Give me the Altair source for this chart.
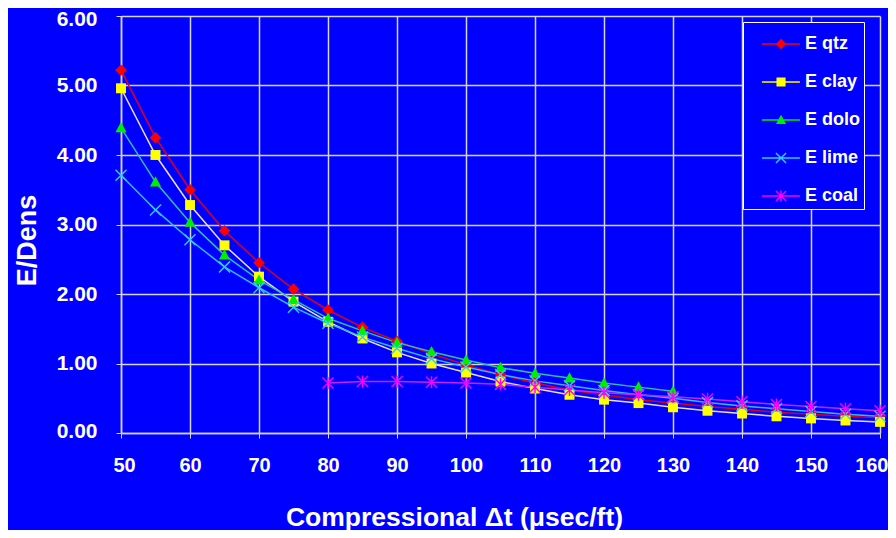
import altair as alt
import pandas as pd

# ---------------- data ----------------
dt_full = [50, 55, 60, 65, 70, 75, 80, 85, 90, 95, 100, 105, 110, 115, 120,
           125, 130, 135, 140, 145, 150, 155, 160]
e_qtz = [5.22, 4.25, 3.50, 2.91, 2.45, 2.07, 1.77, 1.52, 1.32, 1.14, 0.98, 0.84,
         0.72, 0.62, 0.55, 0.48, 0.43, 0.38, 0.34, 0.30, 0.27, 0.24, 0.22]
e_clay = [4.96, 4.00, 3.28, 2.70, 2.25, 1.89, 1.60, 1.36, 1.16, 1.00, 0.87, 0.74,
          0.64, 0.55, 0.48, 0.43, 0.37, 0.32, 0.28, 0.24, 0.21, 0.18, 0.16]
dt_dolo = [50, 55, 60, 65, 70, 75, 80, 85, 90, 95, 100, 105, 110, 115, 120, 125, 130]
e_dolo = [4.39, 3.61, 3.03, 2.56, 2.20, 1.92, 1.65, 1.47, 1.30, 1.17, 1.05, 0.94,
          0.86, 0.79, 0.72, 0.66, 0.60]
e_lime = [3.71, 3.21, 2.78, 2.39, 2.09, 1.81, 1.58, 1.38, 1.22, 1.07, 0.95, 0.84,
          0.75, 0.68, 0.61, 0.55, 0.50, 0.44, 0.39, 0.35, 0.31, 0.27, 0.24]
dt_coal = [80, 85, 90, 95, 100, 105, 110, 115, 120, 125, 130, 135, 140, 145, 150, 155, 160]
e_coal = [0.72, 0.74, 0.74, 0.73, 0.72, 0.70, 0.66, 0.62, 0.58, 0.55, 0.52, 0.49,
          0.45, 0.41, 0.38, 0.35, 0.32]

series_names = ["E qtz", "E clay", "E dolo", "E lime", "E coal"]
line_colors = ["#e00010", "#e8e0c8", "#30c0a0", "#33bbff", "#cc22ff"]
marker_colors = ["#ff0000", "#ffff00", "#00ee00", "#33ccff", "#ff00ff"]
x_ticks = [50, 60, 70, 80, 90, 100, 110, 120, 130, 140, 150, 160]
y_ticks = [0, 1, 2, 3, 4, 5, 6]

rows = []
for name, xs, ys in [("E qtz", dt_full, e_qtz), ("E clay", dt_full, e_clay),
                     ("E dolo", dt_dolo, e_dolo), ("E lime", dt_full, e_lime),
                     ("E coal", dt_coal, e_coal)]:
    for x, y in zip(xs, ys):
        rows.append({"dt": x, "val": y, "series": name})
df = pd.DataFrame(rows)


# ---------------- marker shapes (SVG paths) ----------------
def poly(pts):
    area = sum(pts[i][0] * pts[(i + 1) % len(pts)][1] - pts[(i + 1) % len(pts)][0] * pts[i][1]
               for i in range(len(pts)))
    if area < 0:
        pts = pts[::-1]
    return "M" + "L".join(f"{x:.3f},{y:.3f}" for x, y in pts) + "Z"


def bar(x1, y1, x2, y2, h):
    dx, dy = x2 - x1, y2 - y1
    L = (dx * dx + dy * dy) ** 0.5
    px, py = -dy / L * h, dx / L * h
    return poly([(x1 + px, y1 + py), (x2 + px, y2 + py), (x2 - px, y2 - py), (x1 - px, y1 - py)])


def shapes(cx, s, h):
    diamond = poly([(cx, -s * 1.05), (cx + s * 1.05, 0), (cx, s * 1.05), (cx - s * 1.05, 0)])
    square = poly([(cx - s * 0.9, -s * 0.9), (cx + s * 0.9, -s * 0.9),
                   (cx + s * 0.9, s * 0.9), (cx - s * 0.9, s * 0.9)])
    tri = poly([(cx, -s * 1.05), (cx + s * 1.0, s * 0.8), (cx - s * 1.0, s * 0.8)])
    xmark = bar(cx - s, -s, cx + s, s, h) + bar(cx - s, s, cx + s, -s, h)
    star = xmark + bar(cx, -s * 1.1, cx, s * 1.1, h)
    return [diamond, square, tri, xmark, star]


marker_paths = shapes(0, 0.92, 0.12)
# legend: line segment plus marker, 18 px per unit (symbol size 1296)
legend_line = bar(-0.17, 0, 1.94, 0, 0.042)
legend_paths = [legend_line + p for p in shapes(0.89, 0.28, 0.04)]

FONT = "Liberation Sans, Arial, sans-serif"
BLUE = "#0000ff"
GRID = "#d4d4d4"

x_enc = alt.X("dt:Q",
              scale=alt.Scale(domain=[50, 160], nice=False, zero=False),
              axis=alt.Axis(values=x_ticks, format="d", labelFont=FONT, labelFontSize=20,
                            labelFontWeight="bold", labelColor="white", labelPadding=17,
                            labelFlush=True, labelFlushOffset=8, labelOverlap=False,
                            tickColor=GRID, tickSize=5, tickWidth=1,
                            domainColor=GRID, domainWidth=1.5,
                            grid=True, gridColor=GRID, gridWidth=1.5,
                            title="Compressional \u0394t (\u03bcsec/ft)",
                            titleFont=FONT, titleFontSize=26.5, titleFontWeight="bold",
                            titleColor="white", titleX=333, titleY=92,
                            titleAlign="center", titleBaseline="alphabetic"))
y_enc = alt.Y("val:Q",
              scale=alt.Scale(domain=[0, 6], nice=False),
              axis=alt.Axis(values=y_ticks, format=".2f", labelFont=FONT, labelFontSize=21,
                            labelFontWeight="bold", labelColor="white", labelPadding=19,
                            labelFlush=True, labelFlushOffset=8, labelOverlap=False,
                            tickColor=GRID, tickSize=5, tickWidth=1,
                            domainColor=GRID, domainWidth=1.5,
                            grid=True, gridColor=GRID, gridWidth=1.5,
                            title="E/Dens", titleFont=FONT, titleFontSize=27,
                            titleFontWeight="bold", titleColor="white",
                            titleX=-94, titleY=224, titleAngle=270,
                            titleAlign="center", titleBaseline="middle"))

base = alt.Chart(df)

lines = base.mark_line(strokeWidth=1.5).encode(
    x=x_enc, y=y_enc,
    color=alt.Color("series:N", scale=alt.Scale(domain=series_names, range=line_colors), legend=None),
    order="dt:Q",
)

points = base.mark_point(filled=True, size=144, opacity=1, strokeWidth=0).encode(
    x=x_enc, y=y_enc,
    color=alt.Color("series:N", scale=alt.Scale(domain=series_names, range=marker_colors), legend=None),
    shape=alt.Shape("series:N", scale=alt.Scale(domain=series_names, range=marker_paths), legend=None),
)

leg = alt.Legend(title=None, orient="none", legendX=622, legendY=6, padding=4,
                 strokeColor="white", fillColor=BLUE, labelColor="white", labelFont=FONT,
                 labelFontSize=18, labelFontWeight="bold", labelOffset=22, rowPadding=11,
                 symbolSize=1296, symbolStrokeWidth=0, symbolOpacity=1, labelLimit=200)

legend_layer = base.transform_filter("false").mark_point(filled=True, size=1296, opacity=1).encode(
    x=x_enc, y=y_enc,
    color=alt.Color("series:N", scale=alt.Scale(domain=series_names, range=marker_colors), legend=leg),
    shape=alt.Shape("series:N", scale=alt.Scale(domain=series_names, range=legend_paths), legend=leg),
)

chart = alt.layer(lines, points, legend_layer).resolve_scale(
    color="independent", shape="independent"
).properties(
    width=759, height=417,
    autosize=alt.AutoSizeParams(type="none"),
    padding={"left": 113, "top": 8, "right": 8, "bottom": 97},
    background=BLUE,
).configure_view(stroke=None)

chart.save("out.html", embed_options={"renderer": "svg", "actions": False})
